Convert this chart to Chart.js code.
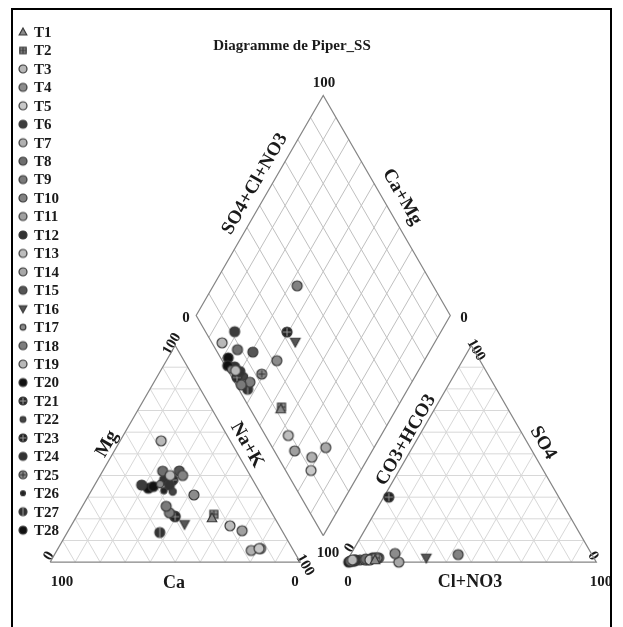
<!DOCTYPE html>
<html>
<head>
<meta charset="utf-8">
<title>Diagramme de Piper_SS</title>
<script src="https://cdn.jsdelivr.net/npm/chart.js@4.4.1/dist/chart.umd.min.js"></script>
<style>
  html, body { margin: 0; padding: 0; background: #fff; }
  canvas { display: block; }
</style>
</head>
<body>
<canvas id="piper" width="623" height="627"></canvas>
<script>
// samples and their ionic composition (% meq)
const samples = ['T1', 'T2', 'T3', 'T4', 'T5', 'T6', 'T7', 'T8', 'T9', 'T10', 'T11', 'T12', 'T13', 'T14',
                 'T15', 'T16', 'T17', 'T18', 'T19', 'T20', 'T21', 'T22', 'T23', 'T24', 'T25', 'T26', 'T27', 'T28'];
const caPct  = [25.1, 23.5, 32, 27, 13.3, 45.6, 16.9, 34, 40.7, 27, 16, 34.5, 19.7, 12.7,
                27.3, 37.5, 38, 40.9, 27.6, 41.3, 32, 34.7, 39.5, 35.3, 39.6, 38, 49.3, 43.7];
const mgPct  = [20.4, 22.1, 40, 31, 6.3, 35.6, 5.4, 42, 25.8, 40, 14.5, 35.6, 16.8, 6.3,
                42.1, 17.5, 36, 22.8, 56, 34.9, 37.9, 32.6, 21, 37.9, 21.3, 33, 13.7, 34.1];
const so4Pct = [1, 2, 1, 4, 1, 2, 2, 1.5, 0.5, 3.5, 1, 1, 1, 0,
                2, 2, 0.5, 1, 1, 0, 0.5, 1, 30, 0.5, 2, 0, 1, 0.5];
const clPct  = [11, 10.8, 2, 17.5, 9, 9.5, 11.3, 7, 1.5, 43, 7, 3.5, 8, 21,
                12, 31, 1, 5, 3, 1, 1.5, 4, 2, 3, 10.5, 2, 2.5, 2.5];
const gridSteps = [10, 20, 30, 40, 50, 60, 70, 80, 90];

// marker look per sample
const markerStyles = [
  ['tri', '#8a8a8a'], ['square', '#8a8a8a'], ['circle', '#b8b8b8'], ['circle', '#8c8c8c'],
  ['circle', '#c8c8c8'], ['circle', '#3c3c3c'], ['circle', '#b0b0b0'], ['circle', '#6e6e6e'],
  ['circle', '#7a7a7a'], ['circle', '#828282'], ['circle', '#a0a0a0'], ['circle', '#333333'],
  ['circle', '#bdbdbd'], ['circle', '#a8a8a8'], ['circle', '#555555'], ['triDown', '#555555'],
  ['small', '#8a8a8a'], ['circle', '#7c7c7c'], ['circle', '#b8b8b8'], ['circle', '#111111'],
  ['plus', '#2a2a2a'], ['star', '#444444'], ['plus', '#222222'], ['circle', '#333333'],
  ['cross', '#8a8a8a'], ['dot', '#222222'], ['vline', '#333333'], ['circle', '#111111']
];

// geometry, data units: triangle side = 100
const K = 2.55;                 // px per unit
const H = Math.sqrt(3) / 2;
const RIGHT_X0 = 118.4;
const DIAMOND_BOTTOM = { x: 109.2, y: 10.6 };
const DIAMOND_SIDE = 101.6;

function cationPoint(ca, mg) {
  const nak = 100 - ca - mg;
  return { x: nak + mg / 2, y: mg * H };
}
function anionPoint(so4, cl) {
  return { x: RIGHT_X0 + cl + so4 / 2, y: so4 * H };
}
function diamondPoint(camg, so4cl) {
  const a = camg / 100, b = so4cl / 100;
  return {
    x: DIAMOND_BOTTOM.x + DIAMOND_SIDE / 2 * (b - a),
    y: DIAMOND_BOTTOM.y + DIAMOND_SIDE * H * (a + b)
  };
}

// grid + outline polylines (null y breaks the line)
function addSeg(arr, p, q) {
  arr.push({ x: p.x, y: p.y }, { x: q.x, y: q.y }, { x: q.x, y: null });
}
const triGrid = [], diaGrid = [], outline = [];
gridSteps.forEach(t => {
  addSeg(triGrid, cationPoint(100 - t, t), cationPoint(0, t));
  addSeg(triGrid, cationPoint(t, 0), cationPoint(t, 100 - t));
  addSeg(triGrid, cationPoint(100 - t, 0), cationPoint(0, 100 - t));
  addSeg(triGrid, anionPoint(t, 0), anionPoint(t, 100 - t));
  addSeg(triGrid, anionPoint(0, t), anionPoint(100 - t, t));
  addSeg(triGrid, anionPoint(100 - t, 0), anionPoint(0, 100 - t));
  addSeg(diaGrid, diamondPoint(t, 0), diamondPoint(t, 100));
  addSeg(diaGrid, diamondPoint(0, t), diamondPoint(100, t));
});
[[cationPoint(100, 0), cationPoint(0, 0), cationPoint(0, 100), cationPoint(100, 0)],
 [anionPoint(0, 0), anionPoint(0, 100), anionPoint(100, 0), anionPoint(0, 0)],
 [diamondPoint(0, 0), diamondPoint(100, 0), diamondPoint(100, 100), diamondPoint(0, 100), diamondPoint(0, 0)]
].forEach(poly => {
  poly.forEach(p => outline.push({ x: p.x, y: p.y }));
  outline.push({ x: poly[0].x, y: null });
});

function makeMarker(kind, fill, r) {
  const size = Math.ceil(2 * r + 4);
  const c = document.createElement('canvas');
  c.width = size; c.height = size;
  const g = c.getContext('2d');
  const m = size / 2;
  g.fillStyle = fill;
  g.strokeStyle = '#3a3a3a';
  g.lineWidth = 1.2;
  g.beginPath();
  if (kind === 'tri') {
    g.moveTo(m, m - r); g.lineTo(m + r * 0.95, m + r * 0.75); g.lineTo(m - r * 0.95, m + r * 0.75); g.closePath();
  } else if (kind === 'triDown') {
    g.moveTo(m, m + r); g.lineTo(m + r * 0.95, m - r * 0.75); g.lineTo(m - r * 0.95, m - r * 0.75); g.closePath();
  } else if (kind === 'square') {
    g.rect(m - r * 0.8, m - r * 0.8, r * 1.6, r * 1.6);
  } else {
    const rr = (kind === 'small' || kind === 'star') ? r * 0.72 : kind === 'dot' ? r * 0.62 : r;
    g.arc(m, m, rr, 0, 2 * Math.PI);
  }
  g.fill();
  g.stroke();
  g.beginPath();
  g.strokeStyle = kind === 'plus' || kind === 'vline' ? '#999' : '#333';
  g.lineWidth = 1;
  if (kind === 'plus' || kind === 'square') {
    g.moveTo(m - r * 0.8, m); g.lineTo(m + r * 0.8, m);
    g.moveTo(m, m - r * 0.8); g.lineTo(m, m + r * 0.8);
  } else if (kind === 'vline') {
    g.moveTo(m, m - r); g.lineTo(m, m + r);
  } else if (kind === 'cross') {
    g.moveTo(m - r * 0.7, m); g.lineTo(m + r * 0.7, m);
    g.moveTo(m, m - r * 0.7); g.lineTo(m, m + r * 0.7);
  }
  g.stroke();
  return c;
}

const plotMarkers = markerStyles.map(s => makeMarker(s[0], s[1], 5));
const legendMarkers = markerStyles.map(s => makeMarker(s[0], s[1], 4));

const sampleSets = samples.map((name, i) => {
  const ca = caPct[i], mg = mgPct[i], so4 = so4Pct[i], cl = clPct[i];
  return {
    label: name,
    data: [cationPoint(ca, mg), diamondPoint(ca + mg, so4 + cl), anionPoint(so4, cl)],
    pointStyle: plotMarkers[i],
    pointRadius: 5,
    showLine: false,
    order: 0
  };
});

const FONT = '"Liberation Serif", "Times New Roman", serif';
// text labels, pixel positions
const axisTexts = [
  { t: '100', x: 324, y: 83, s: 15 },
  { t: '0', x: 186, y: 318, s: 15 },
  { t: '0', x: 464, y: 318, s: 15 },
  { t: 'SO4+Cl+NO3', x: 255, y: 184, s: 19, r: -60 },
  { t: 'Ca+Mg', x: 402, y: 197, s: 19, r: 60 },
  { t: 'Mg', x: 107, y: 444, s: 19, r: -60 },
  { t: 'Na+K', x: 247, y: 445, s: 19, r: 60 },
  { t: 'Ca', x: 174, y: 583, s: 18 },
  { t: '100', x: 62, y: 582, s: 15 },
  { t: '0', x: 295, y: 582, s: 15 },
  { t: '0', x: 49, y: 556, s: 15, r: -60 },
  { t: '100', x: 305, y: 565, s: 15, r: 60 },
  { t: '100', x: 172, y: 344, s: 15, r: -60 },
  { t: 'CO3+HCO3', x: 406, y: 440, s: 19, r: -60 },
  { t: 'SO4', x: 543, y: 443, s: 19, r: 60 },
  { t: 'Cl+NO3', x: 470, y: 582, s: 18 },
  { t: '100', x: 601, y: 582, s: 15 },
  { t: '100', x: 328, y: 553, s: 15 },
  { t: '0', x: 348, y: 582, s: 15 },
  { t: '0', x: 593, y: 556, s: 15, r: 60 },
  { t: '0', x: 350, y: 548, s: 15, r: -60 },
  { t: '100', x: 476, y: 350, s: 15, r: 60 }
];

const piperText = {
  id: 'piperText',
  beforeDraw(chart) {
    const ctx = chart.ctx;
    ctx.save();
    ctx.fillStyle = '#fff';
    ctx.fillRect(0, 0, chart.width, chart.height);
    ctx.restore();
  },
  beforeDatasetsDraw(chart) {
    const ctx = chart.ctx;
    ctx.save();
    ctx.fillStyle = '#1a1a1a';
    ctx.textAlign = 'center';
    ctx.textBaseline = 'middle';
    axisTexts.forEach(l => {
      ctx.save();
      ctx.translate(l.x, l.y);
      if (l.r) ctx.rotate(l.r * Math.PI / 180);
      ctx.font = 'bold ' + l.s + 'px ' + FONT;
      ctx.fillText(l.t, 0, 0);
      ctx.restore();
    });
    ctx.restore();
  },
  afterDraw(chart) {
    const ctx = chart.ctx;
    ctx.save();
    // frame
    ctx.strokeStyle = '#000';
    ctx.lineWidth = 2;
    ctx.strokeRect(12, 9, 599, 700);
    // title
    ctx.fillStyle = '#1a1a1a';
    ctx.textAlign = 'center';
    ctx.textBaseline = 'middle';
    ctx.font = 'bold 15px ' + FONT;
    ctx.fillText('Diagramme de Piper_SS', 292, 46);
    // legend
    ctx.textAlign = 'left';
    samples.forEach((name, i) => {
      const y = 32 + i * 18.45;
      const img = legendMarkers[i];
      ctx.drawImage(img, 23 - img.width / 2, y - img.height / 2);
      ctx.fillText(name, 34, y + 1);
    });
    ctx.restore();
  }
};

new Chart(document.getElementById('piper'), {
  type: 'scatter',
  data: {
    datasets: sampleSets.concat([
      { label: 'outline', data: outline, showLine: true, borderColor: '#858585', borderWidth: 1.2,
        pointRadius: 0, spanGaps: false, order: 1 },
      { label: 'diamond grid', data: diaGrid, showLine: true, borderColor: '#c0c0c0', borderWidth: 1,
        pointRadius: 0, spanGaps: false, order: 2 },
      { label: 'triangle grid', data: triGrid, showLine: true, borderColor: '#d8d8d8', borderWidth: 1,
        pointRadius: 0, spanGaps: false, order: 3 }
    ])
  },
  options: {
    responsive: false,
    animation: false,
    layout: { padding: 0 },
    plugins: { legend: { display: false }, tooltip: { enabled: false } },
    scales: {
      x: { type: 'linear', display: false, min: -45 / K, max: 578 / K },
      y: { type: 'linear', display: false, min: -60 / K, max: 567 / K }
    }
  },
  plugins: [piperText]
});
</script>
</body>
</html>
